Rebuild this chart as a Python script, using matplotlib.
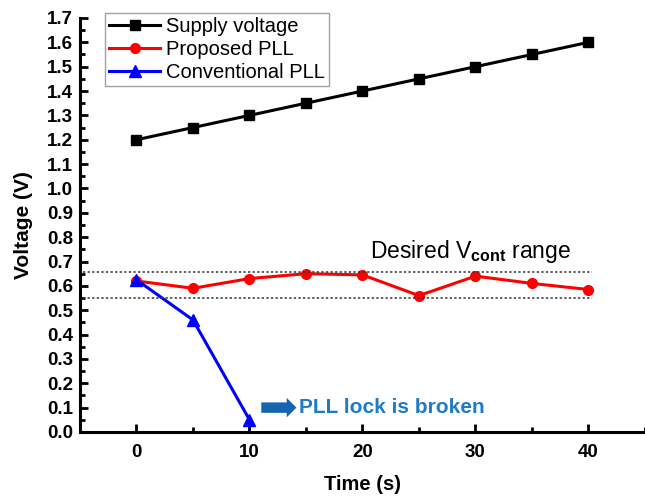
import matplotlib
matplotlib.use("Agg")
import matplotlib.pyplot as plt
from matplotlib.ticker import MultipleLocator

plt.rcParams['font.family'] = ['Liberation Sans', 'DejaVu Sans']
plt.rcParams['mathtext.fontset'] = 'custom'
plt.rcParams['mathtext.rm'] = 'Liberation Sans'
plt.rcParams['mathtext.bf'] = 'Liberation Sans:bold'

time = [0, 5, 10, 15, 20, 25, 30, 35, 40]
supply = [1.2, 1.25, 1.3, 1.35, 1.4, 1.45, 1.5, 1.55, 1.6]
proposed = [0.62, 0.59, 0.63, 0.65, 0.645, 0.56, 0.64, 0.61, 0.585]
conv_time = [0, 5, 10]
conventional = [0.625, 0.46, 0.05]
range_bounds = [0.655, 0.55]

fig = plt.figure(figsize=(6.45, 4.99), dpi=100)
ax = fig.add_axes([0.124, 0.1343, 0.876, 0.8297])

ax.plot(time, supply, '-s', color='black', lw=2.2, ms=7, label='Supply voltage')
ax.plot(time, proposed, '-o', color='red', lw=2.2, ms=7, label='Proposed PLL')
ax.plot(conv_time, conventional, '-^', color='blue', lw=2.2, ms=8, label='Conventional PLL')

for b in range_bounds:
    ax.plot([-4.7, 40.3], [b, b], linestyle=(0, (1.5, 1.5)), color='#333333', lw=1.1)

ax.set_xlim(-5, 45)
ax.set_ylim(0, 1.7)
ax.xaxis.set_major_locator(MultipleLocator(10))
ax.xaxis.set_minor_locator(MultipleLocator(5))
ax.yaxis.set_major_locator(MultipleLocator(0.1))
ax.yaxis.set_minor_locator(MultipleLocator(0.05))
ax.set_xticks([0, 10, 20, 30, 40])
ax.set_yticks([i / 10 for i in range(18)])
ax.set_yticklabels([f"{i / 10:.1f}" for i in range(18)])
ax.spines['top'].set_visible(False)
ax.spines['right'].set_visible(False)
for s in ['left', 'bottom']:
    ax.spines[s].set_linewidth(2.2)
ax.tick_params(which='major', direction='in', length=6, width=2, labelsize=13.5)
ax.tick_params(which='minor', direction='in', length=3.5, width=2)
ax.tick_params(axis='x', pad=9)
ax.tick_params(axis='y', pad=5)
for lbl in ax.get_xticklabels() + ax.get_yticklabels():
    lbl.set_fontweight('bold')

ax.set_xlabel('Time (s)', fontsize=14.5, fontweight='bold', labelpad=10)
ax.set_ylabel('Voltage (V)', fontsize=15, fontweight='bold', labelpad=10)

leg = ax.legend(loc='upper left', bbox_to_anchor=(0.045, 1.013), fontsize=14.5,
                frameon=True, fancybox=False, edgecolor='#888888',
                handlelength=2.5, borderpad=0.2, labelspacing=0.2, handletextpad=0.3,
                borderaxespad=0)
leg.get_frame().set_linewidth(1)

ax.text(20.7, 0.74, 'Desired V$_{\\mathbf{cont}}$ range', fontsize=16.5, ha='left', va='center')

ax.annotate('', xy=(14.4, 0.1), xytext=(10.8, 0.1),
            arrowprops=dict(arrowstyle='simple,head_width=1.4,head_length=0.7,tail_width=0.75',
                            color='#1565b0', lw=0))
ax.text(14.4, 0.1, 'PLL lock is broken', fontsize=15, fontweight='bold',
        color='#1f7ac8', ha='left', va='center')

fig.savefig('out.png', dpi=100)
